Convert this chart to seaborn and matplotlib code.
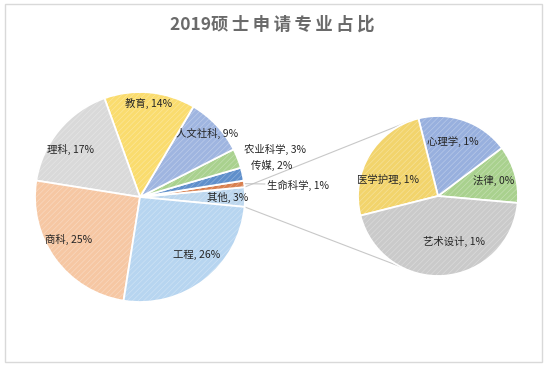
import numpy as np
import matplotlib
matplotlib.use("Agg")
import matplotlib.pyplot as plt
import seaborn as sns

# -----------------------------
# data
# -----------------------------
main_labels = ["其他", "生命科学", "传媒", "农业科学", "人文社科", "教育", "理科", "商科", "工程"]
main_share = [None, 1, 2, 3, 9, 14, 17, 25, 26]   # 其他 is filled from the sub pie

sub_labels = ["法律", "心理学", "医学护理", "艺术设计"]
sub_share = [0.35, 0.56, 0.75, 1.34]

main_share[0] = sum(sub_share)

main_colors = ["#bdd7ee", "#d9804f", "#5f8fcb", "#a9d18e", "#9fb5e0",
               "#fadc6e", "#d9d9d9", "#f6c7a3", "#b7d5f0"]
sub_colors = ["#a9d18e", "#98b0de", "#f2d46c", "#cacaca"]

# -----------------------------
# style
# -----------------------------
sns.set_theme(style="white")
plt.rcParams["font.family"] = ["Noto Sans CJK SC", "DejaVu Sans"]
plt.rcParams["hatch.linewidth"] = 0.5

W, H = 550, 369
fig = plt.figure(figsize=(5.5, 3.69), dpi=100)
ax = fig.add_axes([0, 0, 1, 1])

main_c, main_r = (140, 172), 105
sub_c, sub_r = (438, 173), 80
main_start = -main_share[0] / sum(main_share) * 180
sub_start = -5

wedge_kw = dict(edgecolor="white", linewidth=1.3)
mw, _ = ax.pie(main_share, colors=main_colors, center=main_c, radius=main_r,
               startangle=main_start, wedgeprops=wedge_kw)
sw, _ = ax.pie(sub_share, colors=sub_colors, center=sub_c, radius=sub_r,
               startangle=sub_start, wedgeprops=wedge_kw)

# faint stripes on top, like the office texture
tex_kw = dict(facecolor="none", edgecolor=(1, 1, 1, 0.3), linewidth=0, hatch="//////")
ax.pie(main_share, center=main_c, radius=main_r, startangle=main_start, wedgeprops=tex_kw)
ax.pie(sub_share, center=sub_c, radius=sub_r, startangle=sub_start, wedgeprops=tex_kw)

def polar(c, r, ang):
    a = np.deg2rad(ang)
    return c[0] + r * np.cos(a), c[1] + r * np.sin(a)

def pct(v):
    return f"{v:.0f}%"

txt_kw = dict(fontsize=7.5, color="#262626", ha="center", va="center")

# main pie labels (inside for big slices): radius fraction, angle shift
inside = {"其他": (0.83, 0), "人文社科": (0.88, 0), "教育": (0.89, 0),
          "理科": (0.8, 5), "商科": (0.79, -5), "工程": (0.77, 7)}
for w, lab, v in zip(mw, main_labels, main_share):
    if lab in inside:
        rf, da = inside[lab]
        mid = (w.theta1 + w.theta2) / 2 + da
        x, y = polar(main_c, main_r * rf, mid)
        ax.text(x, y, f"{lab}, {pct(v)}", **txt_kw)

# small slices labelled outside
outside = {"农业科学": (244, H - 149), "传媒": (251, H - 165), "生命科学": (267, H - 185)}
for w, lab, v in zip(mw, main_labels, main_share):
    if lab in outside:
        x, y = outside[lab]
        ax.text(x, y, f"{lab}, {pct(v)}", fontsize=7.5, color="#262626",
                ha="left", va="center")
        if lab == "生命科学":
            mid = (w.theta1 + w.theta2) / 2
            px, py = polar(main_c, main_r * 1.01, mid)
            ax.plot([px, x - 2], [py, y + 1], color="#bfbfbf", lw=0.7)

# sub pie labels
sub_r_frac = {"法律": 0.72, "心理学": 0.7, "医学护理": 0.66, "艺术设计": 0.6}
sub_ang_shift = {"心理学": 4, "医学护理": 13, "艺术设计": 15}
for w, lab, v in zip(sw, sub_labels, sub_share):
    mid = (w.theta1 + w.theta2) / 2 + sub_ang_shift.get(lab, 0)
    x, y = polar(sub_c, sub_r * sub_r_frac[lab], mid)
    ax.text(x, y, f"{lab}, {pct(v)}", **txt_kw)

# connector lines from 其他 to the sub pie
t1, t2 = mw[0].theta1, mw[0].theta2
for a_main, a_sub in [(t2, 110), (t1, 242)]:
    p0 = polar(main_c, main_r, a_main)
    p1 = polar(sub_c, sub_r, a_sub)
    ax.plot([p0[0], p1[0]], [p0[1], p1[1]], color="#c8c8c8", lw=0.8, zorder=0)

# title, chinese letters spaced out a little
title_year, title_rest = "2019", "硕士申请专业占比"
ax.text(272, H - 25, title_year + "\u2009".join(title_rest), fontsize=12.5,
        fontweight="bold", color="#6a6a6a", ha="center", va="center")

# chart border
ax.add_patch(plt.Rectangle((5, H - 362), 537, 358, fill=False,
                           edgecolor="#d9d9d9", lw=1))

ax.set_xlim(0, W)
ax.set_ylim(0, H)
ax.set_aspect("equal")
ax.axis("off")

fig.savefig("out.png", dpi=100)
